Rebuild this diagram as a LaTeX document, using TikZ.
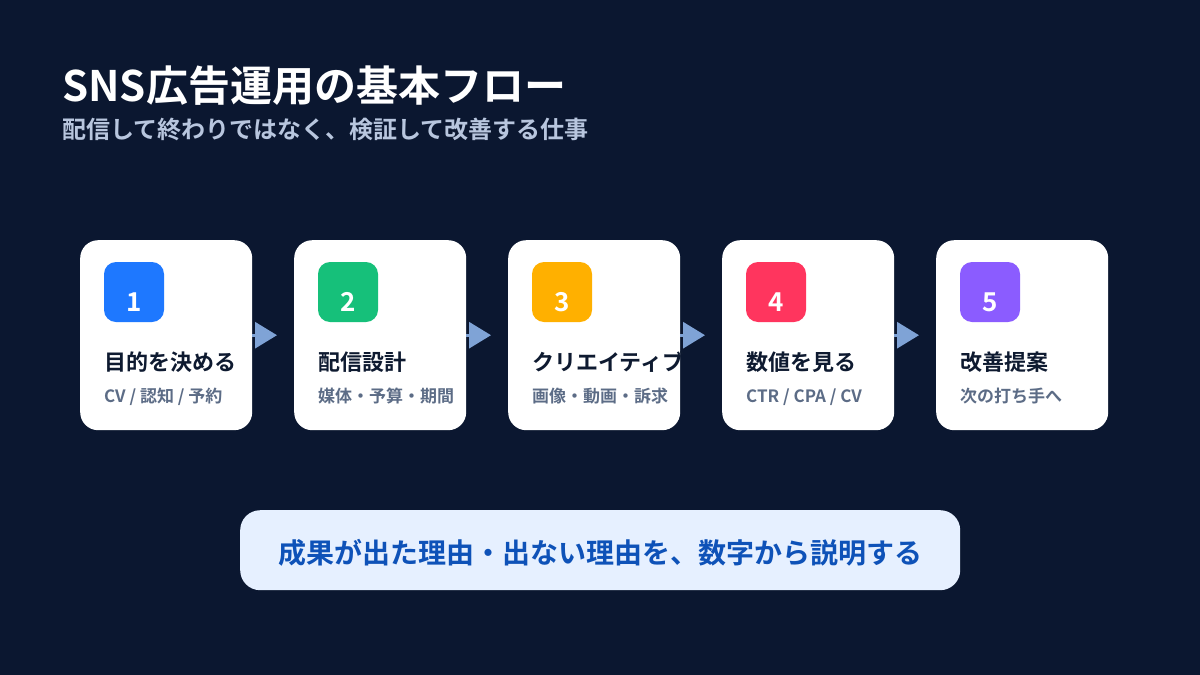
\documentclass[tikz,border=0pt]{standalone}
\usepackage{fontspec}
\setmainfont{Noto Sans CJK JP}[UprightFont=* Medium, BoldFont=* Bold]
\usetikzlibrary{arrows.meta}
\definecolor{bgc}{RGB}{11,23,48}
\definecolor{subc}{RGB}{184,198,222}
\definecolor{darkt}{RGB}{14,26,48}
\definecolor{grayt}{RGB}{92,108,134}
\definecolor{arrc}{RGB}{127,163,214}
\definecolor{c1}{RGB}{30,120,255}
\definecolor{c2}{RGB}{22,192,122}
\definecolor{c3}{RGB}{255,176,0}
\definecolor{c4}{RGB}{255,53,94}
\definecolor{c5}{RGB}{139,92,255}
\definecolor{notef}{RGB}{230,240,255}
\definecolor{notet}{RGB}{14,82,184}
\tikzset{
  card/.style={fill=white, rounded corners=18pt, minimum width=172pt, minimum height=190pt, anchor=north west, inner sep=0pt},
  badge/.style={rounded corners=12pt, minimum width=60pt, minimum height=60pt, inner sep=0pt},
  bnum/.style={anchor=base, inner sep=0pt, text=white, font=\fontsize{26}{26}\selectfont\bfseries},
  ctitle/.style={anchor=base west, inner sep=0pt, text=darkt, font=\fontsize{22}{24}\selectfont\bfseries},
  csub/.style={anchor=base west, inner sep=0pt, text=grayt, font=\fontsize{17}{20}\selectfont\bfseries},
  flow/.style={draw=arrc, line width=3pt, -{Triangle[length=22pt,width=26pt]}, shorten >=17pt},
}
\begin{document}
\begin{tikzpicture}[x=1pt,y=-1pt]
\useasboundingbox (0,0) rectangle (1200,675);
\fill[bgc] (0,0) rectangle (1200,675);
\node[anchor=base west, inner sep=0pt, text=white, font=\fontsize{42}{46}\selectfont\bfseries] (title) at (62,101) {SNS広告運用の基本フロー};
\node[anchor=base west, inner sep=0pt, text=subc, font=\fontsize{24}{28}\selectfont\bfseries] (subtitle) at (62,138.5) {配信して終わりではなく、検証して改善する仕事};
\foreach \i/\col/\t/\s in {1/c1/{目的を決める}/{CV / 認知 / 予約}, 2/c2/{配信設計}/{媒体・予算・期間}, 3/c3/{クリエイティブ}/{画像・動画・訴求}, 4/c4/{数値を見る}/{CTR / CPA / CV}, 5/c5/{改善提案}/{次の打ち手へ}}{
  \pgfmathsetmacro{\xx}{80+214*(\i-1)}
  \node[card] (card\i) at (\xx,240) {};
  \node[badge, fill=\col] (badge\i) at (\xx+54,292) {};
  \node[bnum] (num\i) at (\xx+54,311.5) {\i};
  \node[ctitle] (ct\i) at (\xx+24,370) {\t};
  \node[csub] (cs\i) at (\xx+24,402.5) {\s};
}
\foreach \i [evaluate=\i as \j using int(\i+1)] in {1,2,3,4}{
  \draw[flow] (card\i.east) -- (card\j.west);
}
\node[fill=notef, rounded corners=20pt, minimum width=720pt, minimum height=80pt, inner sep=0pt, anchor=north west] (note) at (240,510) {};
\node[text=notet, inner sep=0pt, anchor=base, font=\fontsize{28}{30}\selectfont\bfseries] (notetext) at (600,563.5) {成果が出た理由・出ない理由を、数字から説明する};
\end{tikzpicture}
\end{document}
